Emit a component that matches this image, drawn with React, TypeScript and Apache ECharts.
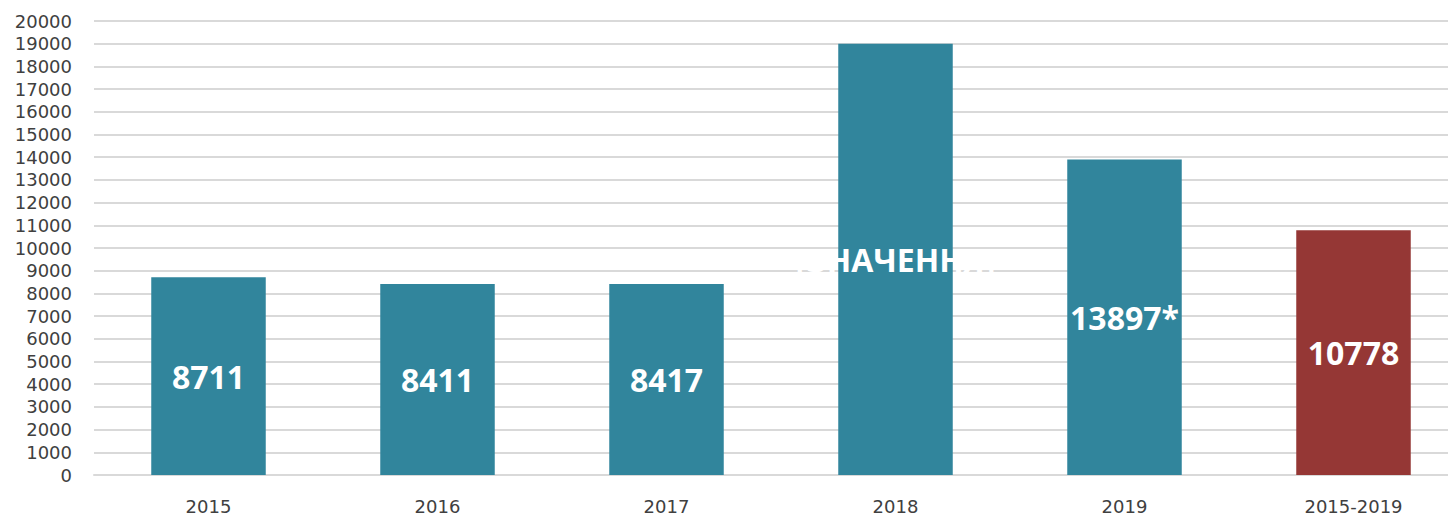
import React, { useEffect, useRef } from "react";
import * as echarts from "echarts";

const categories = ["2015", "2016", "2017", "2018", "2019", "2015-2019"];
const values = [8711, 8411, 8417, 19000, 13897, 10778];
const labelTexts = ["8711", "8411", "8417", "[ЗНАЧЕННЯ]", "13897*", "10778"];
const barColors = ["#31859c", "#31859c", "#31859c", "#31859c", "#31859c", "#953735"];

export default function App() {
  const ref = useRef<HTMLDivElement>(null);
  useEffect(() => {
    if (!ref.current) return;
    const chart = echarts.init(ref.current, undefined, { renderer: "svg" });
    chart.setOption({
      animation: false,
      grid: { left: 94, right: 0, top: 21, bottom: 43, containLabel: false },
      xAxis: {
        type: "category",
        data: categories,
        axisLine: { show: true, lineStyle: { color: "#d9d9d9", width: 2 } },
        axisTick: { show: false },
        axisLabel: { color: "#404040", fontSize: 18, fontFamily: "DejaVu Sans", margin: 22 },
        z: 0,
      },
      yAxis: {
        type: "value",
        min: 0,
        max: 20000,
        interval: 1000,
        axisLine: { show: false },
        axisTick: { show: false },
        axisLabel: {
          color: "#404040",
          fontSize: 18,
          lineHeight: 19,
          fontFamily: "DejaVu Sans",
          margin: 22,
          formatter: (v: number) => String(v),
        },
        splitLine: { lineStyle: { color: "#d9d9d9", width: 2 } },
      },
      series: [
        {
          type: "bar",
          barWidth: "50%",
          data: values.map((v, i) => ({ value: v, itemStyle: { color: barColors[i] } })),
          label: {
            show: true,
            position: "inside",
            color: "#ffffff",
            fontSize: 32,
            fontWeight: "bold",
            fontFamily: "Open Sans",
            offset: [0, 4],
            formatter: (p: any) => labelTexts[p.dataIndex],
          },
          labelLayout: { hideOverlap: false },
        },
      ],
    });
    return () => chart.dispose();
  }, []);
  return (
    <div style={{ position: "fixed", left: 0, top: 0, width: 1448, height: 518, overflow: "hidden", background: "#fff" }}>
      <div ref={ref} style={{ width: 1468, height: 518 }} />
    </div>
  );
}
